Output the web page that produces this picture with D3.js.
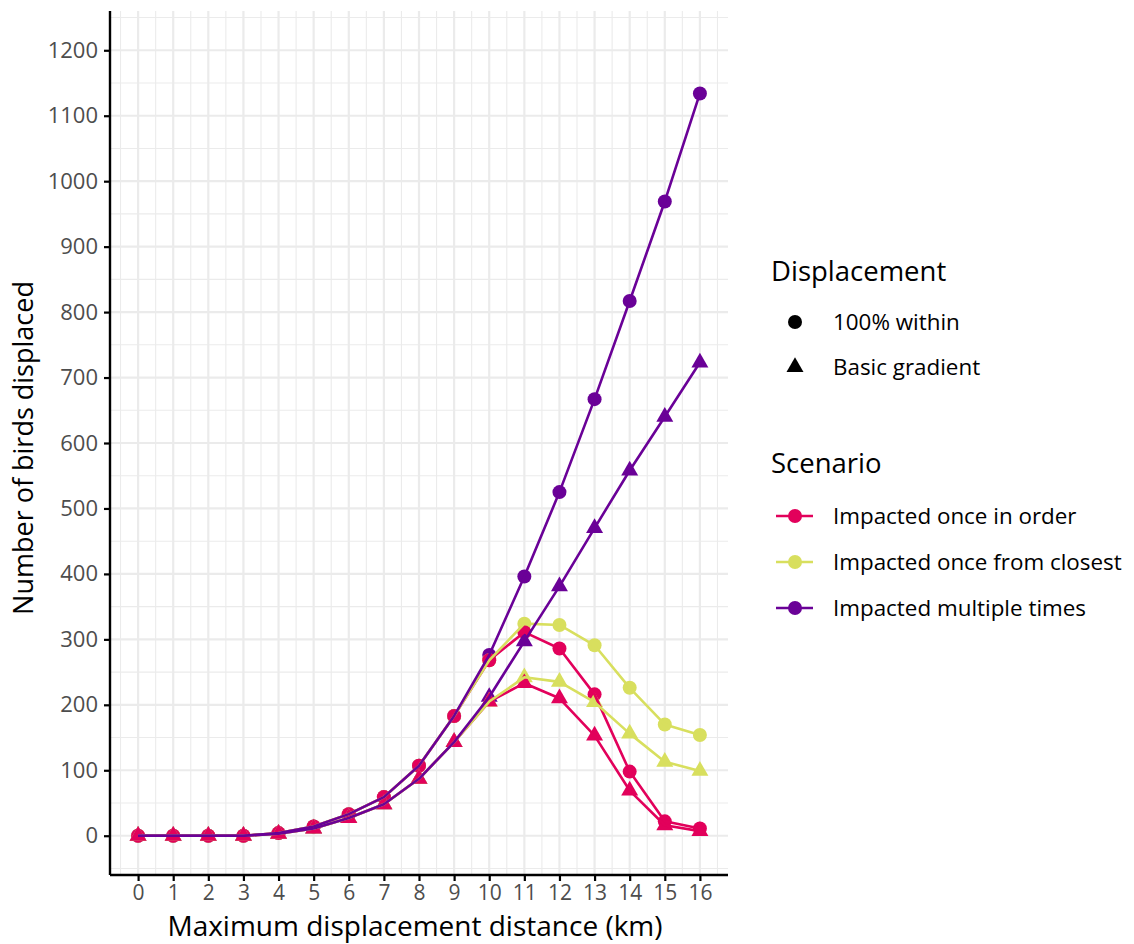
<!DOCTYPE html>
<html>
<head>
<meta charset="utf-8">
<script src="https://cdn.jsdelivr.net/npm/d3@7"></script>
<style>
  body { margin: 0; background: #ffffff; }
  svg { display: block; font-family: "Open Sans", sans-serif; }
</style>
</head>
<body>
<svg id="chart" width="1134" height="944"></svg>
<script>
// ---- data ----
const distances = [0,1,2,3,4,5,6,7,8,9,10,11,12,13,14,15,16];
const xTicks = distances;
const yTicks = [0,100,200,300,400,500,600,700,800,900,1000,1100,1200];

const scenarios = ["Impacted once in order", "Impacted once from closest", "Impacted multiple times"];
const scenarioColors = ["#E2015B", "#D8DF5E", "#6A0197"];
const displacements = ["100% within", "Basic gradient"];

const orderWithin      = [0,0,0,0,4,14,33,59,107,183,268,311,286,216,98,22,11];
const orderGradient    = [0,0,0,0,3,11,27,48,87,143,205,233,210,153,69,16,7];
const closestWithin    = [0,0,0,0,4,14,33,59,107,183,268,324,322,291,226,170,154];
const closestGradient  = [0,0,0,0,3,11,27,48,87,143,205,242,235,204,156,113,99];
const multipleWithin   = [0,0,0,0,4,14,33,59,107,183,276,396,525,667,817,969,1134];
const multipleGradient = [0,0,0,0,3,11,27,48,87,143,212,297,381,470,558,640,723];

const series = [
  {scenario: 0, disp: 0, values: orderWithin},
  {scenario: 0, disp: 1, values: orderGradient},
  {scenario: 1, disp: 0, values: closestWithin},
  {scenario: 1, disp: 1, values: closestGradient},
  {scenario: 2, disp: 0, values: multipleWithin},
  {scenario: 2, disp: 1, values: multipleGradient}
];

// ---- layout ----
const svg = d3.select("#chart");
const panel = {left: 110, right: 728, top: 11, bottom: 875};

const x = d3.scaleLinear().domain([-0.8, 16.8]).range([panel.left, panel.right]);
const y = d3.scaleLinear().domain([-60, 1260]).range([panel.bottom, panel.top]);

const gridColor = "#ebebeb";
const g = svg.append("g");

// minor grid
const xMinor = d3.range(-0.5, 16.6, 1);
const yMinor = d3.range(-50, 1251, 100);
g.selectAll(".xminor").data(xMinor).enter().append("line")
  .attr("x1", d => x(d)).attr("x2", d => x(d))
  .attr("y1", panel.top).attr("y2", panel.bottom)
  .attr("stroke", gridColor).attr("stroke-width", 1.1);
g.selectAll(".yminor").data(yMinor).enter().append("line")
  .attr("y1", d => y(d)).attr("y2", d => y(d))
  .attr("x1", panel.left).attr("x2", panel.right)
  .attr("stroke", gridColor).attr("stroke-width", 1.1);
// major grid
g.selectAll(".xmajor").data(xTicks).enter().append("line")
  .attr("x1", d => x(d)).attr("x2", d => x(d))
  .attr("y1", panel.top).attr("y2", panel.bottom)
  .attr("stroke", gridColor).attr("stroke-width", 2.2);
g.selectAll(".ymajor").data(yTicks).enter().append("line")
  .attr("y1", d => y(d)).attr("y2", d => y(d))
  .attr("x1", panel.left).attr("x2", panel.right)
  .attr("stroke", gridColor).attr("stroke-width", 2.2);

// ---- marks ----
const circleSym = d3.symbol().type(d3.symbolCircle).size(Math.PI * 7 * 7);
const triSym = d3.symbol().type(d3.symbolTriangle).size(125);

// points: circles (purple, yellow, pink) then triangles
const pointOrder = [4, 2, 0, 5, 3, 1];
pointOrder.forEach(i => {
  const s = series[i];
  g.append("g").selectAll("path").data(s.values).enter().append("path")
    .attr("d", s.disp === 0 ? circleSym : triSym)
    .attr("transform", (d, j) => `translate(${x(distances[j])},${y(d)})`)
    .attr("fill", scenarioColors[s.scenario]);
});

// lines: pink, yellow, purple
const line = d3.line().x((d, j) => x(distances[j])).y(d => y(d));
series.forEach(s => {
  g.append("path").datum(s.values)
    .attr("d", line)
    .attr("fill", "none")
    .attr("stroke", scenarioColors[s.scenario])
    .attr("stroke-width", 2.6)
    .attr("stroke-linejoin", "round");
});

// ---- axes ----
const xAxis = d3.axisBottom(x).tickValues(xTicks).tickFormat(d3.format("d")).tickSize(6).tickPadding(3);
const yAxis = d3.axisLeft(y).tickValues(yTicks).tickFormat(d3.format("d")).tickSize(6).tickPadding(6);

const gx = svg.append("g").attr("transform", `translate(0,${panel.bottom})`).call(xAxis);
const gy = svg.append("g").attr("transform", `translate(${panel.left},0)`).call(yAxis);
[gx, gy].forEach(a => {
  a.select(".domain").attr("stroke", "#000").attr("stroke-width", 2.4);
  a.selectAll(".tick line").attr("stroke", "#000").attr("stroke-width", 2.2);
  a.selectAll(".tick text").attr("fill", "#4d4d4d")
    .style("font-family", "'Open Sans', sans-serif");
});
gy.selectAll(".tick text").style("font-size", "22px");
gx.selectAll(".tick text").style("font-size", "21px").attr("dy", null).attr("y", 25);
gx.select(".domain").attr("d", `M${panel.left},0H${panel.right}`);
gy.select(".domain").attr("d", `M0,${panel.top}V${panel.bottom}`);

// axis titles
svg.append("text")
  .attr("x", (panel.left + panel.right) / 2 - 4).attr("y", 936)
  .attr("text-anchor", "middle")
  .style("font-size", "28px").attr("fill", "#000")
  .text("Maximum displacement distance (km)");
svg.append("text")
  .attr("transform", `translate(33,${(panel.top + panel.bottom) / 2 + 5}) rotate(-90)`)
  .attr("text-anchor", "middle")
  .style("font-size", "27px").attr("fill", "#000")
  .text("Number of birds displaced");

// ---- legend ----
const leg = svg.append("g");
leg.append("text").attr("x", 771).attr("y", 281).style("font-size", "27.5px").attr("fill", "#000").text("Displacement");
displacements.forEach((name, i) => {
  const cy = 322 + i * 45;
  leg.append("path").attr("d", i === 0 ? circleSym : triSym)
    .attr("transform", `translate(795,${cy})`).attr("fill", "#000");
  leg.append("text").attr("x", 833).attr("y", cy).attr("dy", "0.35em")
    .style("font-size", "22.4px").attr("fill", "#000").text(name);
});

leg.append("text").attr("x", 771).attr("y", 473).style("font-size", "27.5px").attr("fill", "#000").text("Scenario");
scenarios.forEach((name, i) => {
  const cy = 516 + i * 46;
  leg.append("line").attr("x1", 776).attr("x2", 813).attr("y1", cy).attr("y2", cy)
    .attr("stroke", scenarioColors[i]).attr("stroke-width", 2.6);
  leg.append("path").attr("d", circleSym)
    .attr("transform", `translate(795,${cy})`).attr("fill", scenarioColors[i]);
  leg.append("text").attr("x", 833).attr("y", cy).attr("dy", "0.35em")
    .style("font-size", "22.4px").attr("fill", "#000").text(name);
});
</script>
</body>
</html>
